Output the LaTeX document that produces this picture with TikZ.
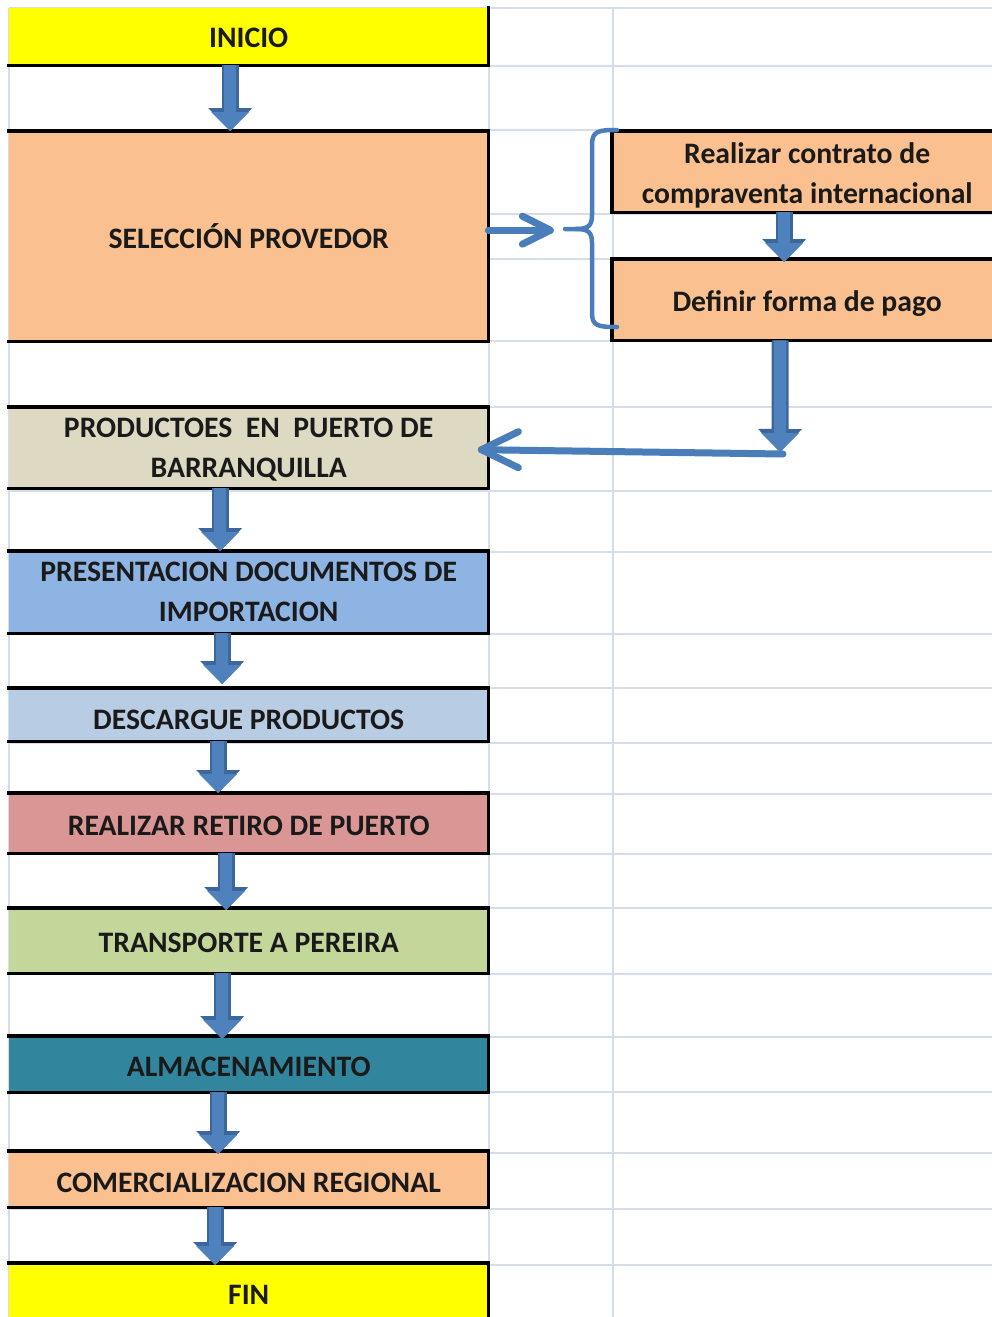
\documentclass[tikz,border=0pt]{standalone}
\usepackage{fontspec}
\setmainfont{Carlito}
\usetikzlibrary{arrows.meta}
\definecolor{cyel}{HTML}{FFFF00}
\definecolor{corg}{HTML}{FAC090}
\definecolor{ctan}{HTML}{DDD9C3}
\definecolor{cblu}{HTML}{8DB4E2}
\definecolor{clbl}{HTML}{B8CCE4}
\definecolor{cred}{HTML}{DA9694}
\definecolor{cgrn}{HTML}{C4D79B}
\definecolor{cteal}{HTML}{31859C}
\definecolor{ablue}{HTML}{4F81BD}
\definecolor{adark}{HTML}{3C679C}
\definecolor{lblue}{HTML}{4A7EBB}
\definecolor{gridc}{HTML}{D5DCEA}
\definecolor{txt}{HTML}{1A1A1A}
\newcommand\mystrut[1]{\rule{0pt}{#1}}
\begin{document}
\begin{tikzpicture}[x=1pt,y=-1pt,
  box/.style={rectangle, inner sep=0pt, anchor=north west, minimum width=479pt,
    font=\bfseries\fontsize{29.7}{40}\selectfont, text=txt, align=center},
  rbox/.style={box, minimum width=390pt},
  th/.style={text height=#1, text depth=0pt},
  bord/.style={draw=black, line width=3.5pt, line cap=rect},
  gridl/.style={draw=gridc, line width=1.5pt},
  blk/.style={draw=ablue, line width=12pt, -{Triangle[width=38pt,length=19pt,line width=0pt]},
    preaction={draw=adark, line width=17pt, -{Triangle[width=44pt,length=23pt,line width=0pt]}}},
  cline/.style={draw=lblue, line width=7pt, line cap=round, line join=round}]
\clip (0,0) rectangle (992,1317);
\fill[white] (0,0) rectangle (992,1317);
% spreadsheet grid
\foreach \yy in {8,66,130,214,259,341,407,491,552,634,688,743,794,854,908,974,1037,1092,1153,1209,1265}
  \draw[gridl] (9,\yy) -- (992,\yy);
\foreach \xx in {9,489,613}
  \draw[gridl] (\xx,8) -- (\xx,1317);
% boxes
\node[box, fill=cyel,  minimum height=57pt, th=21pt]  (inicio) at (9,8)    {INICIO};
\node[box, fill=corg,  minimum height=210pt] (sel)    at (9,131)  {SELECCIÓN PROVEDOR};
\node[box, fill=ctan,  minimum height=81pt]  (prod)   at (9,407)  {\mystrut{23pt}PRODUCTOES\ \ EN\ \ PUERTO DE\\BARRANQUILLA};
\node[box, fill=cblu,  minimum height=82pt]  (pres)   at (9,551)  {PRESENTACION DOCUMENTOS DE\\IMPORTACION};
\node[box, fill=clbl,  minimum height=53pt, th=29pt]  (desc)   at (9,688)  {DESCARGUE PRODUCTOS};
\node[box, fill=cred,  minimum height=60pt, th=25pt]  (ret)    at (9,793)  {REALIZAR RETIRO DE PUERTO};
\node[box, fill=cgrn,  minimum height=65pt, th=23pt]  (trans)  at (9,908)  {TRANSPORTE A PEREIRA};
\node[box, fill=cteal, minimum height=56pt, th=25pt]  (alm)    at (9,1036) {ALMACENAMIENTO};
\node[box, fill=corg,  minimum height=56pt, th=27pt]  (com)    at (9,1151) {COMERCIALIZACION REGIONAL};
\node[box, fill=cyel,  minimum height=64pt]  (fin)    at (9,1263) {FIN};
\node[rbox, fill=corg, minimum height=81pt]  (real)   at (612,131) {\mystrut{28.5pt}Realizar contrato de\\compraventa internacional};
\node[rbox, fill=corg, minimum height=81pt, th=24pt]  (defi)   at (612,259) {Definir forma de pago};
% borders
\draw[bord] (inicio.north east) -- (inicio.south east) -- (inicio.south west);
\foreach \n in {sel,prod,pres,desc,ret,trans,alm,com,fin}
  \draw[bord] (\n.north west) -- (\n.north east) -- (\n.south east) -- (\n.south west);
\foreach \n in {real,defi}
  \draw[bord] (\n.north east) -- (\n.north west) -- (\n.south west) -- (\n.south east);
% block arrows
\draw[blk] ([xshift=-18.5pt]inicio.south) -- ([xshift=-18.5pt]sel.north);
\draw[blk] ([xshift=-28.5pt]prod.south) -- ([xshift=-28.5pt]pres.north);
\draw[blk] ([xshift=-26.5pt]pres.south) -- ([xshift=-26.5pt,yshift=4pt]desc.north);
\draw[blk] ([xshift=-30.5pt]desc.south) -- ([xshift=-30.5pt]ret.north);
\draw[blk] ([xshift=-22.5pt]ret.south) -- ([xshift=-22.5pt,yshift=-2pt]trans.north);
\draw[blk] ([xshift=-26.5pt]trans.south) -- ([xshift=-26.5pt,yshift=-3pt]alm.north);
\draw[blk] ([xshift=-30.5pt]alm.south) -- ([xshift=-30.5pt,yshift=-3pt]com.north);
\draw[blk] ([xshift=-33.5pt]com.south) -- ([xshift=-33.5pt,yshift=-2pt]fin.north);
\draw[blk] ([xshift=-23pt]real.south) -- ([xshift=-23pt,yshift=-3pt]defi.north);
\coordinate (corner) at (780,452);
\draw[blk] ([xshift=-27pt]defi.south) -- (corner);
% line arrows
\draw[cline] ([yshift=6pt]sel.east) -- ++(62,0) coordinate (t1);
\draw[cline] ([shift={(-28,-14)}]t1) -- (t1) -- ([shift={(-28,14)}]t1);
\draw[cline] ([xshift=3pt,yshift=-2pt]corner) -- ([xshift=-7pt,yshift=-2pt]prod.east) coordinate (t2);
\draw[cline] ([shift={(37,-18)}]t2) -- (t2) -- ([shift={(37,18)}]t2);
% brace
\draw[draw=lblue, line width=4.5pt, line cap=round, line join=round]
  (617,130) .. controls (598,130) and (592,131) .. (592,145) -- (592,215)
  .. controls (592,226) and (588,229) .. (576,229) -- (565,229);
\draw[draw=lblue, line width=4.5pt, line cap=round, line join=round]
  (576,229) .. controls (588,229) and (592,232) .. (592,243) -- (592,313)
  .. controls (592,326) and (598,327) .. (617,327);
\end{tikzpicture}
\end{document}
